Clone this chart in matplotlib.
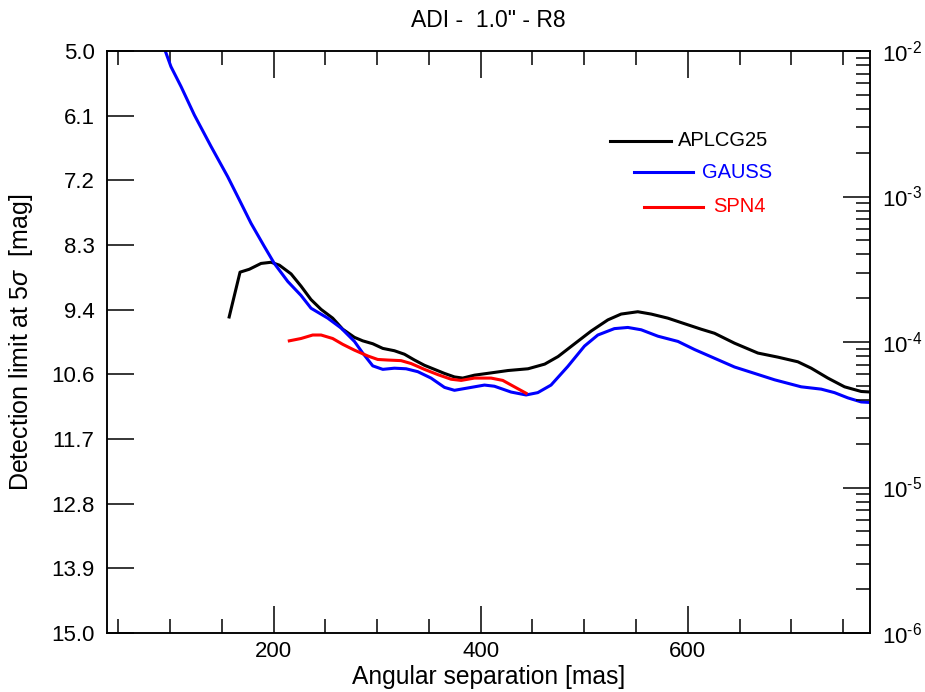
import matplotlib
matplotlib.use("Agg")
import matplotlib.pyplot as plt
from matplotlib.ticker import MultipleLocator, FixedLocator, LogLocator, NullFormatter, FuncFormatter
import numpy as np

plt.rcParams['font.family'] = ['Liberation Sans', 'DejaVu Sans']
plt.rcParams['mathtext.fontset'] = 'custom'
plt.rcParams['mathtext.rm'] = 'Liberation Sans'
plt.rcParams['mathtext.it'] = 'Liberation Sans:italic'

# angular separation [mas] and detection limit [mag]
sep_aplc = [157, 167.5, 176.5, 187.8, 197.5, 205.5, 216.8, 226.4, 236, 245.8, 257, 266.7,
            278, 286, 295.7, 305.4, 316.6, 326.3, 336, 345.6, 355.3, 365, 374.6, 382.6,
            393.9, 410.3, 426.4, 445.7, 461.8, 474.7, 490.7, 506.8, 522.8, 535.6, 551.7,
            564.6, 580.7, 594.2, 612.9, 625.8, 645.1, 667.7, 687, 706.3, 719.2, 735.3,
            751.4, 767.5, 777]
mag_aplc = [9.57, 8.80, 8.75, 8.65, 8.63, 8.68, 8.83, 9.04, 9.27, 9.44, 9.59, 9.78,
            9.92, 9.98, 10.03, 10.11, 10.15, 10.21, 10.31, 10.40, 10.47, 10.54, 10.60, 10.62,
            10.57, 10.53, 10.49, 10.46, 10.38, 10.25, 10.03, 9.81, 9.62, 9.52, 9.48,
            9.52, 9.59, 9.67, 9.78, 9.85, 10.02, 10.19, 10.26, 10.34, 10.45, 10.62,
            10.77, 10.85, 10.86]

sep_gauss = [92, 95.3, 100.8, 110.5, 123.4, 139.5, 155.6, 166.9, 178.1, 191, 200.6, 213.6,
             226.4, 236.1, 252.2, 265.1, 278, 286, 295.7, 305.4, 316.6, 327.9, 339.2, 352,
             365, 374.6, 387.5, 403.6, 413.2, 429.3, 443.8, 455.1, 467.9, 484.1, 500.2,
             513.1, 529.1, 542.1, 555, 571.1, 590.5, 606.6, 625.9, 645.2, 664.6, 683.9,
             709.5, 728.9, 741.7, 754.6, 767.5, 777]
mag_gauss = [4.85, 5.0, 5.27, 5.61, 6.10, 6.64, 7.16, 7.56, 7.96, 8.36, 8.65, 8.96,
             9.20, 9.42, 9.59, 9.76, 9.99, 10.19, 10.41, 10.47, 10.45, 10.46, 10.51, 10.62,
             10.78, 10.83, 10.79, 10.74, 10.76, 10.86, 10.91, 10.87, 10.74, 10.42, 10.07,
             9.88, 9.77, 9.75, 9.79, 9.90, 9.99, 10.13, 10.28, 10.43, 10.54, 10.65,
             10.77, 10.81, 10.87, 10.96, 11.03, 11.04]

sep_spn4 = [215.1, 226.4, 237.7, 245.8, 257, 266.7, 278, 290.9, 300.5, 310.2, 323,
            332.7, 345.6, 358.5, 371.4, 381.1, 393.9, 410, 421.3, 432.5, 443.8]
mag_spn4 = [9.98, 9.94, 9.88, 9.88, 9.94, 10.04, 10.14, 10.24, 10.30, 10.31, 10.32,
            10.37, 10.47, 10.56, 10.64, 10.66, 10.62, 10.62, 10.66, 10.77, 10.88]

labels = ['APLCG25', 'GAUSS', 'SPN4']
colors = ['black', 'blue', 'red']
mag_ticks = np.linspace(5, 15, 10)


def pow_label(v, pos):
    return r'$10^{\text{-%d}}$' % round(-np.log10(v))


fig = plt.figure(figsize=(9.25, 6.92), dpi=100)
ax = fig.add_axes([107 / 925, 1 - 633 / 692, 763 / 925, 582 / 692])

for sep, mag, c in zip([sep_aplc, sep_gauss, sep_spn4], [mag_aplc, mag_gauss, mag_spn4], colors):
    ax.plot(sep, mag, color=c, lw=2.2)

ax.set_xlim(39, 776)
ax.set_ylim(15, 5)
ax.xaxis.set_major_locator(FixedLocator([200, 400, 600]))
ax.xaxis.set_minor_locator(MultipleLocator(50))
ax.yaxis.set_major_locator(FixedLocator(mag_ticks))
ax.set_yticklabels(['%.1f' % m for m in mag_ticks])
ax.tick_params(axis='x', which='major', direction='in', length=19.5, width=1.1, top=True,
               labelsize=16, pad=6)
ax.tick_params(axis='x', which='minor', direction='in', length=10, width=1.1, top=True)
ax.tick_params(axis='y', which='major', direction='in', length=19.5, width=1.1,
               labelsize=16, pad=9)
for s in ax.spines.values():
    s.set_linewidth(1.1)

# contrast axis on the right: 5 mag -> 1e-2, 15 mag -> 1e-6
ax2 = ax.twinx()
ax2.set_yscale('log')
ax2.set_ylim(1e-6, 1e-2)
ax2.yaxis.set_major_locator(LogLocator(base=10, numticks=10))
ax2.yaxis.set_minor_locator(LogLocator(base=10, subs=np.arange(2, 10), numticks=10))
ax2.yaxis.set_major_formatter(FuncFormatter(pow_label))
ax2.yaxis.set_minor_formatter(NullFormatter())
ax2.tick_params(axis='y', which='major', direction='in', length=19.5, width=1.1,
                labelsize=16, pad=9)
ax2.tick_params(axis='y', which='minor', direction='in', length=10, width=1.1)
for s in ax2.spines.values():
    s.set_linewidth(1.1)

ax.set_xlabel('Angular separation [mas]', fontsize=17.7)
ax.xaxis.set_label_coords(0.5, -0.055)
ax.set_ylabel(r'Detection limit at 5$\sigma$  [mag]', fontsize=18)
ax.yaxis.set_label_coords(-0.095, 0.5)
ax.set_title('ADI -  1.0" - R8', fontsize=16.5, pad=17)

# legend drawn by hand like the original
leg_lines = [(0.659, 0.739, 0.846), (0.691, 0.768, 0.792), (0.704, 0.781, 0.732)]
leg_text_x = [0.748, 0.780, 0.794]
for (x0, x1, y), tx, lab, c in zip(leg_lines, leg_text_x, labels, colors):
    ax.plot([x0, x1], [y, y], color=c, lw=2.2, transform=ax.transAxes)
    ax.text(tx, y, lab, color=c, fontsize=14.5, va='center', ha='left', transform=ax.transAxes)

fig.savefig('out.png', dpi=100)
